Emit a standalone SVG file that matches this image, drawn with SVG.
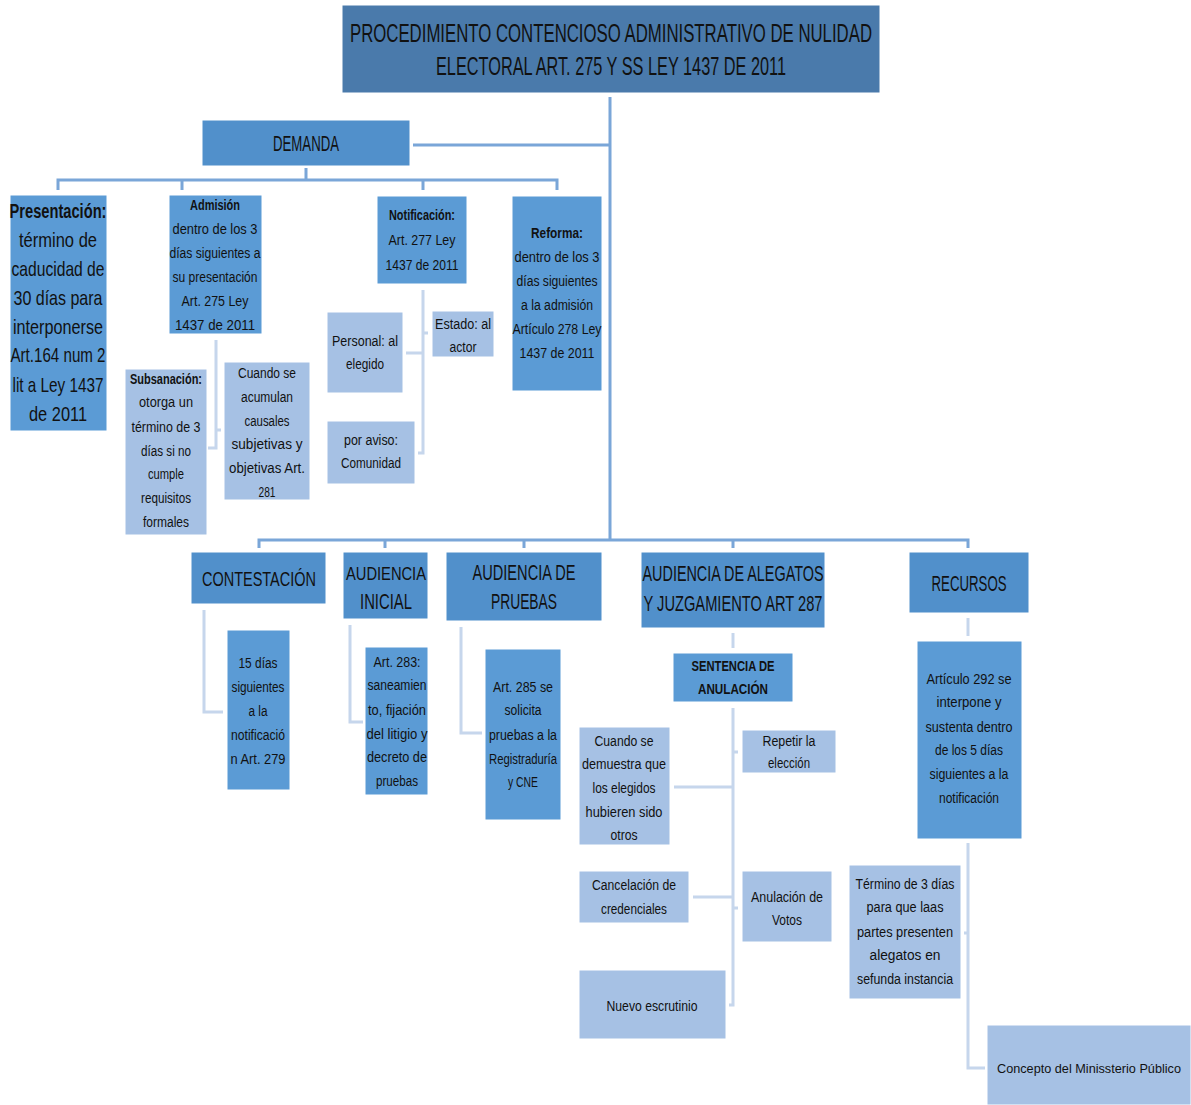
<svg xmlns="http://www.w3.org/2000/svg" width="1191" height="1105" viewBox="0 0 1191 1105">
<style>
text{font-family:"Liberation Sans",Arial,sans-serif;fill:#111;text-anchor:middle}
.t{font-size:25px}
.h{font-size:22px}
.hs{font-size:19px}
.hc{font-size:20px}
.p{font-size:21px}
.s{font-size:14px}
.ss{font-size:12.5px}
.b{font-weight:bold}
.c1{fill:#4A7AAB;stroke:#fff;stroke-width:1}
.c2{fill:#5190CB;stroke:#fff;stroke-width:1}
.c3{fill:#5B9BD5;stroke:#fff;stroke-width:1}
.c4{fill:#A6C1E4;stroke:#fff;stroke-width:1}
.ln{fill:none;stroke:#7AA6D8;stroke-width:3}
.lp{fill:none;stroke:#C6D6EC;stroke-width:3}
</style>
<rect width="1191" height="1105" fill="#fff"/>
<g id="connectors">
<path class="ln" d="M610,97V540M413,145H610"/>
<path class="ln" d="M306,168V180M58,190V180H557V190M182,180V190M423,180V190"/>
<path class="ln" d="M259,548V540H968V548M385,540V548M524,540V548M733,540V548"/>
<path class="lp" d="M216,340V448H208M216,430H221"/>
<path class="lp" d="M423,290V453H418M406,353H423M423,333H428"/>
<path class="lp" d="M204,610V712H223"/>
<path class="lp" d="M350,625V722H363"/>
<path class="lp" d="M461,627V733H482"/>
<path class="lp" d="M733,633V648"/>
<path class="lp" d="M733,708V1005H729M674,787H733M733,752H738M693,897H733M733,908H738"/>
<path class="lp" d="M968,618V636"/>
<path class="lp" d="M968,843V1068H985M964,933H968"/>
</g>
<g id="title">
<rect class="c1" x="342" y="5" width="538" height="88"/>
<text class="t" x="611" y="42" textLength="522" lengthAdjust="spacingAndGlyphs">PROCEDIMIENTO CONTENCIOSO ADMINISTRATIVO DE NULIDAD</text>
<text class="t" x="611" y="75" textLength="350" lengthAdjust="spacingAndGlyphs">ELECTORAL ART. 275 Y SS LEY 1437 DE 2011</text>
</g>
<g id="demanda">
<rect class="c2" x="202" y="120" width="208" height="46"/>
<text class="h" x="306" y="151" textLength="66" lengthAdjust="spacingAndGlyphs">DEMANDA</text>
</g>
<g id="presentacion">
<rect class="c3" x="10" y="195" width="97" height="236"/>
<text class="p b" x="58" y="218" textLength="97" lengthAdjust="spacingAndGlyphs">Presentación:</text>
<text class="p" x="58" y="247" textLength="78" lengthAdjust="spacingAndGlyphs">término de</text>
<text class="p" x="58" y="276" textLength="93" lengthAdjust="spacingAndGlyphs">caducidad de</text>
<text class="p" x="58" y="305" textLength="89" lengthAdjust="spacingAndGlyphs">30 días para</text>
<text class="p" x="58" y="334" textLength="90" lengthAdjust="spacingAndGlyphs">interponerse</text>
<text class="p" x="58" y="362" textLength="95" lengthAdjust="spacingAndGlyphs">Art.164 num 2</text>
<text class="p" x="58" y="392" textLength="91" lengthAdjust="spacingAndGlyphs">lit a Ley 1437</text>
<text class="p" x="58" y="421" textLength="58" lengthAdjust="spacingAndGlyphs">de 2011</text>
</g>
<g id="admision">
<rect class="c3" x="169" y="195" width="93" height="139"/>
<text class="s b" x="215" y="210" textLength="50" lengthAdjust="spacingAndGlyphs">Admisión</text>
<text class="s" x="215" y="234" textLength="85" lengthAdjust="spacingAndGlyphs">dentro de los 3</text>
<text class="s" x="215" y="258" textLength="91" lengthAdjust="spacingAndGlyphs">días siguientes a</text>
<text class="s" x="215" y="282" textLength="85" lengthAdjust="spacingAndGlyphs">su presentación</text>
<text class="s" x="215" y="306" textLength="67" lengthAdjust="spacingAndGlyphs">Art. 275 Ley</text>
<text class="s" x="215" y="330" textLength="80" lengthAdjust="spacingAndGlyphs">1437 de 2011</text>
</g>
<g id="subsanacion">
<rect class="c4" x="125" y="369" width="82" height="166"/>
<text class="s b" x="166" y="384" textLength="72" lengthAdjust="spacingAndGlyphs">Subsanación:</text>
<text class="s" x="166" y="407" textLength="54" lengthAdjust="spacingAndGlyphs">otorga un</text>
<text class="s" x="166" y="432" textLength="69" lengthAdjust="spacingAndGlyphs">término de 3</text>
<text class="s" x="166" y="456" textLength="50" lengthAdjust="spacingAndGlyphs">días si no</text>
<text class="s" x="166" y="479" textLength="36" lengthAdjust="spacingAndGlyphs">cumple</text>
<text class="s" x="166" y="503" textLength="50" lengthAdjust="spacingAndGlyphs">requisitos</text>
<text class="s" x="166" y="527" textLength="46" lengthAdjust="spacingAndGlyphs">formales</text>
</g>
<g id="acumulan">
<rect class="c4" x="224" y="362" width="86" height="138"/>
<text class="s" x="267" y="378" textLength="58" lengthAdjust="spacingAndGlyphs">Cuando se</text>
<text class="s" x="267" y="402" textLength="52" lengthAdjust="spacingAndGlyphs">acumulan</text>
<text class="s" x="267" y="426" textLength="45" lengthAdjust="spacingAndGlyphs">causales</text>
<text class="s" x="267" y="449" textLength="71" lengthAdjust="spacingAndGlyphs">subjetivas y</text>
<text class="s" x="267" y="473" textLength="76" lengthAdjust="spacingAndGlyphs">objetivas Art.</text>
<text class="s" x="267" y="497" textLength="17" lengthAdjust="spacingAndGlyphs">281</text>
</g>
<g id="notificacion">
<rect class="c3" x="377" y="196" width="90" height="88"/>
<text class="s b" x="422" y="220" textLength="66" lengthAdjust="spacingAndGlyphs">Notificación:</text>
<text class="s" x="422" y="245" textLength="67" lengthAdjust="spacingAndGlyphs">Art. 277 Ley</text>
<text class="s" x="422" y="270" textLength="73" lengthAdjust="spacingAndGlyphs">1437 de 2011</text>
</g>
<g id="personal">
<rect class="c4" x="327" y="312" width="76" height="81"/>
<text class="s" x="365" y="346" textLength="66" lengthAdjust="spacingAndGlyphs">Personal: al</text>
<text class="s" x="365" y="369" textLength="38" lengthAdjust="spacingAndGlyphs">elegido</text>
</g>
<g id="estado">
<rect class="c4" x="432" y="311" width="62" height="46"/>
<text class="s" x="463" y="329" textLength="56" lengthAdjust="spacingAndGlyphs">Estado: al</text>
<text class="s" x="463" y="352" textLength="27" lengthAdjust="spacingAndGlyphs">actor</text>
</g>
<g id="aviso">
<rect class="c4" x="327" y="421" width="88" height="63"/>
<text class="s" x="371" y="445" textLength="54" lengthAdjust="spacingAndGlyphs">por aviso:</text>
<text class="s" x="371" y="468" textLength="60" lengthAdjust="spacingAndGlyphs">Comunidad</text>
</g>
<g id="reforma">
<rect class="c3" x="512" y="196" width="90" height="195"/>
<text class="s b" x="557" y="238" textLength="52" lengthAdjust="spacingAndGlyphs">Reforma:</text>
<text class="s" x="557" y="262" textLength="85" lengthAdjust="spacingAndGlyphs">dentro de los 3</text>
<text class="s" x="557" y="286" textLength="81" lengthAdjust="spacingAndGlyphs">días siguientes</text>
<text class="s" x="557" y="310" textLength="72" lengthAdjust="spacingAndGlyphs">a la admisión</text>
<text class="s" x="557" y="334" textLength="89" lengthAdjust="spacingAndGlyphs">Artículo 278 Ley</text>
<text class="s" x="557" y="358" textLength="75" lengthAdjust="spacingAndGlyphs">1437 de 2011</text>
</g>
<g id="contestacion">
<rect class="c2" x="191" y="552" width="135" height="52"/>
<text class="hc" x="259" y="586" textLength="114" lengthAdjust="spacingAndGlyphs">CONTESTACIÓN</text>
</g>
<g id="contestacion-det">
<rect class="c3" x="227" y="630" width="63" height="160"/>
<text class="s" x="258" y="668" textLength="39" lengthAdjust="spacingAndGlyphs">15 días</text>
<text class="s" x="258" y="692" textLength="53" lengthAdjust="spacingAndGlyphs">siguientes</text>
<text class="s" x="258" y="716" textLength="19" lengthAdjust="spacingAndGlyphs">a la</text>
<text class="s" x="258" y="740" textLength="54" lengthAdjust="spacingAndGlyphs">notificació</text>
<text class="s" x="258" y="764" textLength="55" lengthAdjust="spacingAndGlyphs">n Art. 279</text>
</g>
<g id="audiencia-inicial">
<rect class="c2" x="343" y="552" width="85" height="67"/>
<text class="hs" x="386" y="580" textLength="80" lengthAdjust="spacingAndGlyphs">AUDIENCIA</text>
<text class="h" x="386" y="609" textLength="52" lengthAdjust="spacingAndGlyphs">INICIAL</text>
</g>
<g id="audiencia-inicial-det">
<rect class="c3" x="365" y="647" width="63" height="148"/>
<text class="s" x="397" y="667" textLength="47" lengthAdjust="spacingAndGlyphs">Art. 283:</text>
<text class="s" x="397" y="690" textLength="59" lengthAdjust="spacingAndGlyphs">saneamien</text>
<text class="s" x="397" y="715" textLength="58" lengthAdjust="spacingAndGlyphs">to, fijación</text>
<text class="s" x="397" y="739" textLength="61" lengthAdjust="spacingAndGlyphs">del litigio y</text>
<text class="s" x="397" y="762" textLength="60" lengthAdjust="spacingAndGlyphs">decreto de</text>
<text class="s" x="397" y="786" textLength="42" lengthAdjust="spacingAndGlyphs">pruebas</text>
</g>
<g id="audiencia-pruebas">
<rect class="c2" x="446" y="552" width="156" height="69"/>
<text class="h" x="524" y="580" textLength="103" lengthAdjust="spacingAndGlyphs">AUDIENCIA DE</text>
<text class="h" x="524" y="609" textLength="66" lengthAdjust="spacingAndGlyphs">PRUEBAS</text>
</g>
<g id="audiencia-pruebas-det">
<rect class="c3" x="485" y="649" width="76" height="171"/>
<text class="s" x="523" y="692" textLength="60" lengthAdjust="spacingAndGlyphs">Art. 285 se</text>
<text class="s" x="523" y="715" textLength="37" lengthAdjust="spacingAndGlyphs">solicita</text>
<text class="s" x="523" y="740" textLength="68" lengthAdjust="spacingAndGlyphs">pruebas a la</text>
<text class="s" x="523" y="764" textLength="68" lengthAdjust="spacingAndGlyphs">Registraduría</text>
<text class="s" x="523" y="787" textLength="30" lengthAdjust="spacingAndGlyphs">y CNE</text>
</g>
<g id="audiencia-alegatos">
<rect class="c2" x="641" y="552" width="184" height="76"/>
<text class="h" x="733" y="581" textLength="181" lengthAdjust="spacingAndGlyphs">AUDIENCIA DE ALEGATOS</text>
<text class="h" x="733" y="611" textLength="179" lengthAdjust="spacingAndGlyphs">Y JUZGAMIENTO ART 287</text>
</g>
<g id="sentencia">
<rect class="c3" x="673" y="653" width="120" height="49"/>
<text class="s b" x="733" y="671" textLength="83" lengthAdjust="spacingAndGlyphs">SENTENCIA DE</text>
<text class="s b" x="733" y="694" textLength="70" lengthAdjust="spacingAndGlyphs">ANULACIÓN</text>
</g>
<g id="demuestra">
<rect class="c4" x="579" y="727" width="91" height="118"/>
<text class="s" x="624" y="746" textLength="59" lengthAdjust="spacingAndGlyphs">Cuando se</text>
<text class="s" x="624" y="769" textLength="84" lengthAdjust="spacingAndGlyphs">demuestra que</text>
<text class="s" x="624" y="793" textLength="63" lengthAdjust="spacingAndGlyphs">los elegidos</text>
<text class="s" x="624" y="817" textLength="77" lengthAdjust="spacingAndGlyphs">hubieren sido</text>
<text class="s" x="624" y="840" textLength="27" lengthAdjust="spacingAndGlyphs">otros</text>
</g>
<g id="repetir">
<rect class="c4" x="742" y="730" width="94" height="43"/>
<text class="s" x="789" y="746" textLength="53" lengthAdjust="spacingAndGlyphs">Repetir la</text>
<text class="s" x="789" y="768" textLength="42" lengthAdjust="spacingAndGlyphs">elección</text>
</g>
<g id="cancelacion">
<rect class="c4" x="579" y="871" width="110" height="52"/>
<text class="s" x="634" y="890" textLength="84" lengthAdjust="spacingAndGlyphs">Cancelación de</text>
<text class="s" x="634" y="914" textLength="66" lengthAdjust="spacingAndGlyphs">credenciales</text>
</g>
<g id="anulacion">
<rect class="c4" x="742" y="871" width="90" height="71"/>
<text class="s" x="787" y="902" textLength="72" lengthAdjust="spacingAndGlyphs">Anulación de</text>
<text class="s" x="787" y="925" textLength="30" lengthAdjust="spacingAndGlyphs">Votos</text>
</g>
<g id="escrutinio">
<rect class="c4" x="579" y="970" width="147" height="69"/>
<text class="s" x="652" y="1011" textLength="91" lengthAdjust="spacingAndGlyphs">Nuevo escrutinio</text>
</g>
<g id="recursos">
<rect class="c2" x="909" y="552" width="120" height="61"/>
<text class="h" x="969" y="591" textLength="75" lengthAdjust="spacingAndGlyphs">RECURSOS</text>
</g>
<g id="recursos-det">
<rect class="c3" x="917" y="641" width="105" height="198"/>
<text class="s" x="969" y="684" textLength="85" lengthAdjust="spacingAndGlyphs">Artículo 292 se</text>
<text class="s" x="969" y="707" textLength="65" lengthAdjust="spacingAndGlyphs">interpone y</text>
<text class="s" x="969" y="732" textLength="87" lengthAdjust="spacingAndGlyphs">sustenta dentro</text>
<text class="s" x="969" y="755" textLength="68" lengthAdjust="spacingAndGlyphs">de los 5 días</text>
<text class="s" x="969" y="779" textLength="79" lengthAdjust="spacingAndGlyphs">siguientes a la</text>
<text class="s" x="969" y="803" textLength="60" lengthAdjust="spacingAndGlyphs">notificación</text>
</g>
<g id="termino">
<rect class="c4" x="849" y="865" width="112" height="134"/>
<text class="s" x="905" y="889" textLength="99" lengthAdjust="spacingAndGlyphs">Término de 3 días</text>
<text class="s" x="905" y="912" textLength="77" lengthAdjust="spacingAndGlyphs">para que laas</text>
<text class="s" x="905" y="937" textLength="96" lengthAdjust="spacingAndGlyphs">partes presenten</text>
<text class="s" x="905" y="960" textLength="71" lengthAdjust="spacingAndGlyphs">alegatos en</text>
<text class="s" x="905" y="984" textLength="96" lengthAdjust="spacingAndGlyphs">sefunda instancia</text>
</g>
<g id="concepto">
<rect class="c4" x="987" y="1025" width="204" height="80"/>
<text class="ss" x="1089" y="1073" textLength="184" lengthAdjust="spacingAndGlyphs">Concepto del Minissterio Público</text>
</g>
</svg>
